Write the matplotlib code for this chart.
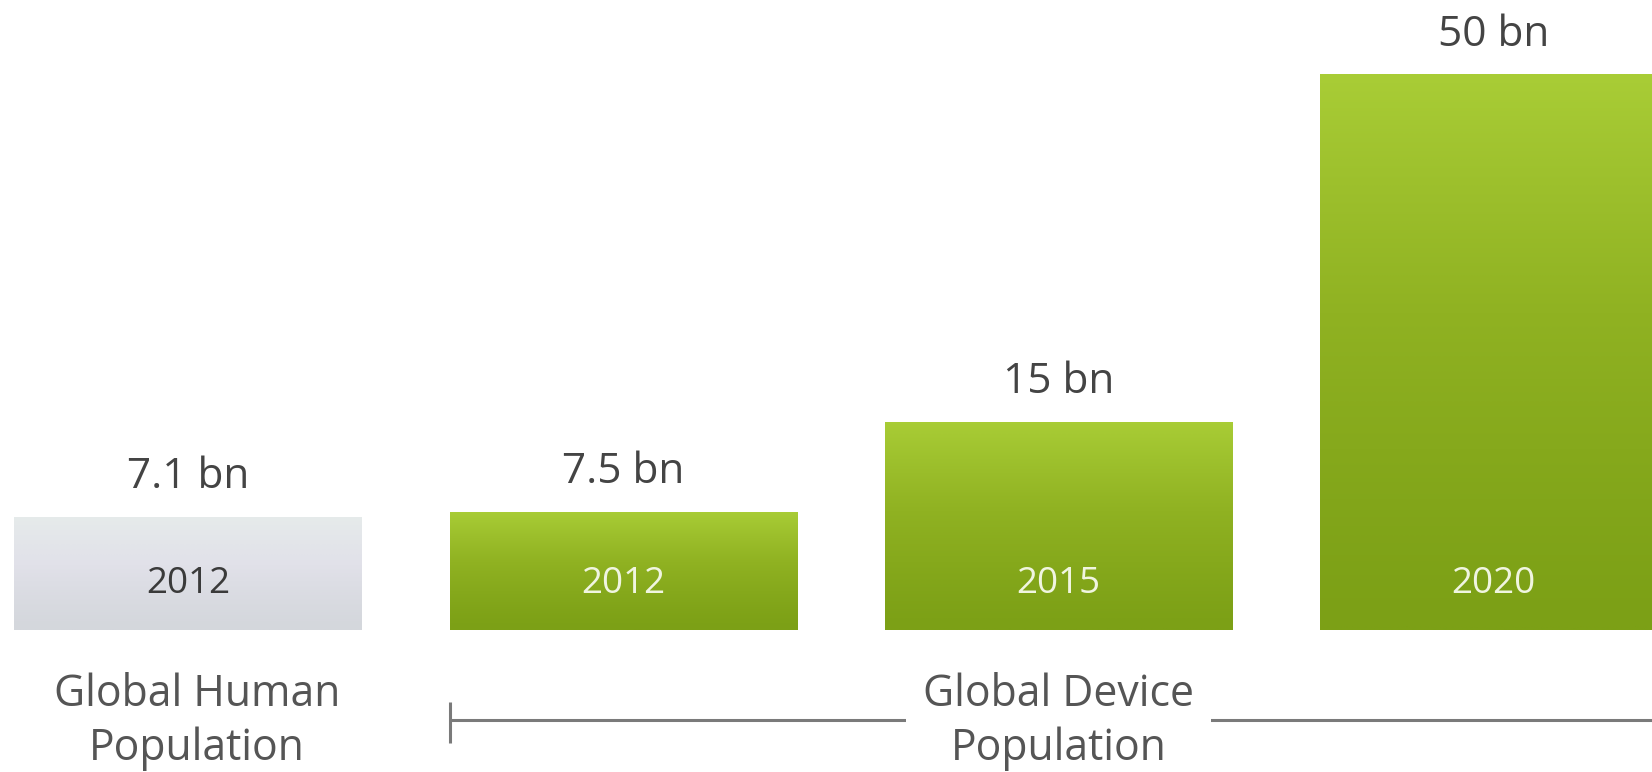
import numpy as np
import matplotlib
matplotlib.use("Agg")
import matplotlib.pyplot as plt
from matplotlib.colors import LinearSegmentedColormap

# ---- data ----
group_labels = ["Global Human\nPopulation", "Global Device\nPopulation"]
bar_groups = [0, 1, 1, 1]
years = ["2012", "2012", "2015", "2020"]
values = [7.1, 7.5, 15, 50]
value_labels = ["7.1 bn", "7.5 bn", "15 bn", "50 bn"]

plt.rcParams['font.family'] = ['Open Sans', 'DejaVu Sans']

P = 0.8127
def fwd(v):
    v = np.asarray(v, float)
    return np.sign(v) * np.abs(v) ** P
def inv(v):
    v = np.asarray(v, float)
    return np.sign(v) * np.abs(v) ** (1 / P)

green = LinearSegmentedColormap.from_list("g", ["#7ca016", "#90b222", "#a9cd36"])
grey = LinearSegmentedColormap.from_list("h", ["#d4d7dc", "#e1e1e9", "#e6ebeb"])
cmaps = [grey, green]
year_colors = ["#3a3a3a", "#f0f5e0"]

fig = plt.figure(figsize=(16.52, 7.72), dpi=100)
ax = fig.add_axes([0, 142 / 772, 1, 630 / 772])
ax.set_yscale('function', functions=(fwd, inv))

x = np.arange(len(values))
bars = ax.bar(x, values, width=0.8, color='none', edgecolor='none')

grad = np.linspace(1, 0, 256).reshape(-1, 1)
for b, g in zip(bars, bar_groups):
    im = ax.imshow(grad, extent=(b.get_x(), b.get_x() + b.get_width(), 0, b.get_height()),
                   aspect='auto', cmap=cmaps[g], vmin=0, vmax=1, origin='upper',
                   interpolation='bilinear', zorder=1)
    im.set_clip_path(b)

xl = (-0.4333, 3.364)
ax.set_xlim(*xl)
ax.set_ylim(0, float(inv(fwd(max(values)) * 630 / 556)))
ax.axis('off')

for xi, v, vl, yr, g in zip(x, values, value_labels, years, bar_groups):
    ax.annotate(vl, xy=(xi, v), xytext=(0, 20), textcoords='offset points',
                ha='center', va='baseline', fontsize=30.5, color='#444444')
    ax.annotate(yr, xy=(xi, 0), xytext=(0, 26.6), textcoords='offset points',
                ha='center', va='baseline', fontsize=26.5, color=year_colors[g], zorder=3)

# group labels
human_x = x[np.array(bar_groups) == 0].mean()
device_idx = np.where(np.array(bar_groups) == 1)[0]
device_x = x[device_idx].mean()
ax.annotate(group_labels[0], xy=(human_x, 0), xytext=(6, -93.7), textcoords='offset points',
            ha='center', va='baseline', fontsize=30.8, color='#555555', linespacing=1.28,
            annotation_clip=False)
ax.annotate(group_labels[1], xy=(device_x, 0), xytext=(0, -93.7), textcoords='offset points',
            ha='center', va='baseline', fontsize=30.8, color='#555555', linespacing=1.28,
            annotation_clip=False, zorder=5,
            bbox=dict(boxstyle='square,pad=0.4', fc='white', ec='none'))

# bracket
left = bars[device_idx[0]].get_x()
tr = ax.get_xaxis_transform()
ax.plot([left, xl[1]], [-90 / 630, -90 / 630], transform=tr, clip_on=False,
        color='#7a7a7a', lw=2.2, zorder=2, solid_capstyle='butt')
ax.plot([left, left], [-72 / 630, -113 / 630], transform=tr, clip_on=False,
        color='#7a7a7a', lw=2.2, zorder=2, solid_capstyle='butt')

fig.savefig("out.png", dpi=100)
